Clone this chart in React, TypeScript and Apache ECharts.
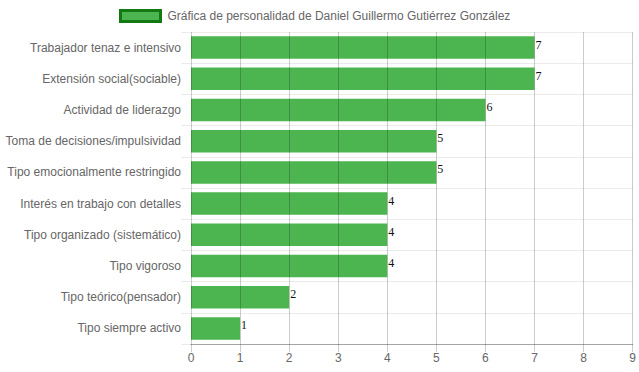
import React, { useEffect, useRef } from "react";
import * as echarts from "echarts";

const categories = [
  "Trabajador tenaz e intensivo",
  "Extensión social(sociable)",
  "Actividad de liderazgo",
  "Toma de decisiones/impulsividad",
  "Tipo emocionalmente restringido",
  "Interés en trabajo con detalles",
  "Tipo organizado (sistemático)",
  "Tipo vigoroso",
  "Tipo teórico(pensador)",
  "Tipo siempre activo",
];
const values = [7, 7, 6, 5, 5, 4, 4, 4, 2, 1];
const seriesName = "Gráfica de personalidad de Daniel Guillermo Gutiérrez González";

export default function App() {
  const ref = useRef<HTMLDivElement>(null);
  useEffect(() => {
    if (!ref.current) return;
    const chart = echarts.init(ref.current, null, { renderer: "svg" });
    chart.setOption({
      animation: false,
      legend: {
        left: 114,
        top: 4,
        itemWidth: 40,
        itemHeight: 11,
        icon: "rect",
        itemStyle: { color: "#4CB54F", borderColor: "#137A13", borderWidth: 3 },
        textStyle: { fontFamily: "Liberation Sans, Arial, sans-serif", fontSize: 12, color: "#666", padding: [0, 0, 0, 2] },
        data: [seriesName],
      },
      grid: { left: 191, right: 6, top: 32, bottom: 28, containLabel: false },
      xAxis: {
        type: "value",
        min: 0,
        max: 9,
        interval: 1,
        z: 5,
        axisLine: { show: true, lineStyle: { color: "rgba(0,0,0,0.3)", width: 1 } },
        axisTick: { show: true, length: 8, lineStyle: { color: "rgba(0,0,0,0.2)" } },
        splitLine: { show: true, lineStyle: { color: "rgba(0,0,0,0.2)", width: 1 } },
        axisLabel: { color: "#666", fontSize: 12, fontFamily: "Liberation Sans, Arial, sans-serif", margin: 8 },
      },
      yAxis: {
        type: "category",
        data: categories,
        inverse: true,
        axisLine: { show: false },
        axisTick: { show: true, length: 10, lineStyle: { color: "rgba(0,0,0,0.08)" } },
        splitLine: { show: true, lineStyle: { color: "rgba(0,0,0,0.08)", width: 1 } },
        axisLabel: { color: "#666", fontSize: 12, fontFamily: "Liberation Sans, Arial, sans-serif", margin: 10 },
      },
      series: [
        {
          name: seriesName,
          type: "bar",
          data: values,
          barWidth: "72%",
          itemStyle: { color: "#4CB54F" },
          label: {
            show: true,
            position: "right",
            distance: 1,
            offset: [0, -3],
            color: "#111",
            fontSize: 12,
            fontFamily: "Liberation Serif, Times New Roman, serif",
          },
        },
      ],
    });
    return () => chart.dispose();
  }, []);
  return <div ref={ref} style={{ width: 639, height: 372, position: "absolute", left: 0, top: 0 }} />;
}
